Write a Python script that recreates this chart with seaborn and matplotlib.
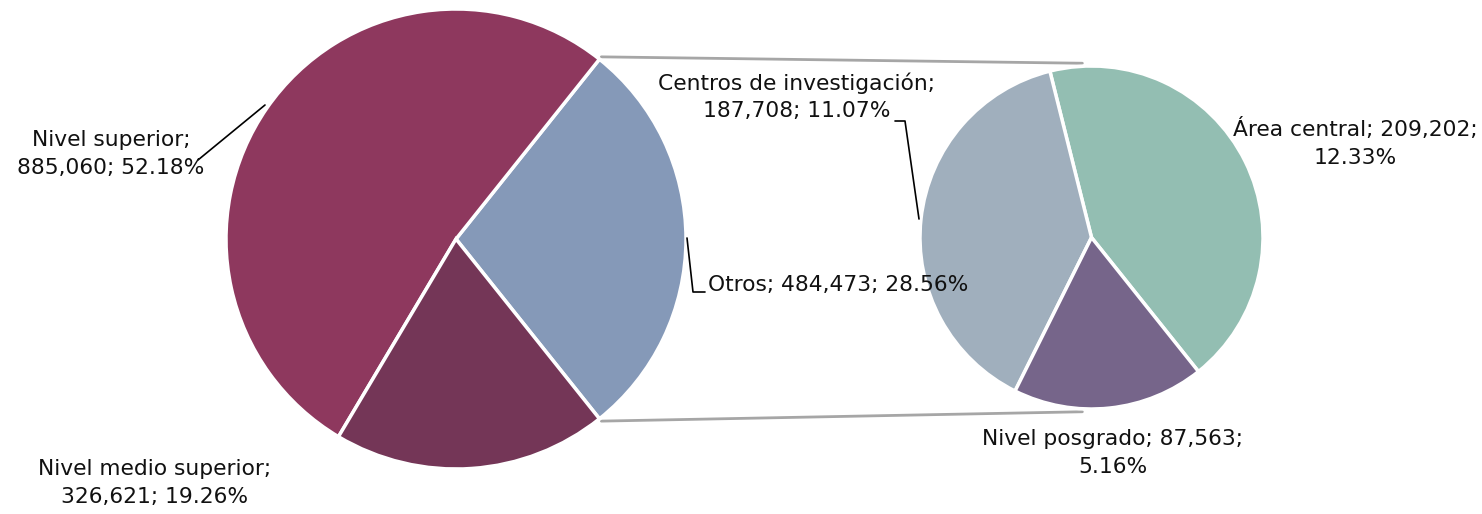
import numpy as np
import seaborn as sns
import matplotlib
matplotlib.use("Agg")
from matplotlib import pyplot as plt

# main pie
main_labels = ["Otros", "Nivel superior", "Nivel medio superior"]
main_values = [484473, 885060, 326621]
main_pct = [28.56, 52.18, 19.26]
main_colors = ["#8599B8", "#8E385E", "#743657"]

# secondary pie (breakdown of "Otros")
sub_labels = ["Área central", "Centros de investigación", "Nivel posgrado"]
sub_values = [209202, 187708, 87563]
sub_pct = [12.33, 11.07, 5.16]
sub_colors = ["#93BEB2", "#A0AFBD", "#76658A"]

sns.set_theme(style="white")
plt.rcParams["font.family"] = ["DejaVu Sans"]

W, H = 1482, 514
fig = plt.figure(figsize=(W / 100, H / 100), dpi=100)
ax = fig.add_axes([0, 0, 1, 1])

c1, r1 = (456, H - 239), 230
c2, r2 = (1091.5, H - 237.5), 171.5

half = main_pct[0] / 100 * 360 / 2
w1, _ = ax.pie(main_values, colors=main_colors, startangle=-half, counterclock=True,
               center=c1, radius=r1, frame=True,
               wedgeprops=dict(edgecolor="white", linewidth=2.5))
w2, _ = ax.pie(sub_values, colors=sub_colors, startangle=-half, counterclock=True,
               center=c2, radius=r2, frame=True,
               wedgeprops=dict(edgecolor="white", linewidth=2.5))
ax.set_xlim(0, W)
ax.set_ylim(0, H)
ax.set_aspect("equal")
ax.axis("off")

# connector lines between the "Otros" wedge and the secondary pie
def edge(c, r, ang):
    a = np.deg2rad(ang)
    return c[0] + r * np.cos(a), c[1] + r * np.sin(a)

p_top = edge(c1, r1 + 3, w1[0].theta2)
p_bot = edge(c1, r1 + 3, w1[0].theta1)
q_top = edge(c2, r2 + 3, 93)
q_bot = edge(c2, r2 + 3, 267)
ax.plot([p_top[0], q_top[0]], [p_top[1], q_top[1]], color="#A6A6A6", lw=2, zorder=0)
ax.plot([p_bot[0], q_bot[0]], [p_bot[1], q_bot[1]], color="#A6A6A6", lw=2, zorder=0)

fs = 15.7
txt_kw = dict(va="center", fontsize=fs, color="#111111", linespacing=1.45)

# main labels
ax.text(111, H - 154, f"{main_labels[1]};\n{main_values[1]:,}; {main_pct[1]:.2f}%",
        ha="center", **txt_kw)
ax.plot([265, 198], [H - 105, H - 160], color="black", lw=1.2)
ax.text(155, H - 483, f"{main_labels[2]};\n{main_values[2]:,}; {main_pct[2]:.2f}%",
        ha="center", **txt_kw)
ax.text(708, H - 285, f"{main_labels[0]}; {main_values[0]:,}; {main_pct[0]:.2f}%",
        ha="left", **txt_kw)
ax.plot([687, 693, 705], [H - 238, H - 292, H - 292], color="black", lw=1.2)

# secondary labels
ax.text(797, H - 97, f"{sub_labels[1]};\n{sub_values[1]:,}; {sub_pct[1]:.2f}%",
        ha="center", **txt_kw)
ax.plot([895, 905, 919], [H - 121, H - 121, H - 219], color="black", lw=1.2)
ax.text(1355, H - 143, f"{sub_labels[0]}; {sub_values[0]:,};\n{sub_pct[0]:.2f}%",
        ha="center", **txt_kw)
ax.text(1113, H - 453, f"{sub_labels[2]}; {sub_values[2]:,};\n{sub_pct[2]:.2f}%",
        ha="center", **txt_kw)

fig.savefig("out.png", dpi=100, facecolor="white")
